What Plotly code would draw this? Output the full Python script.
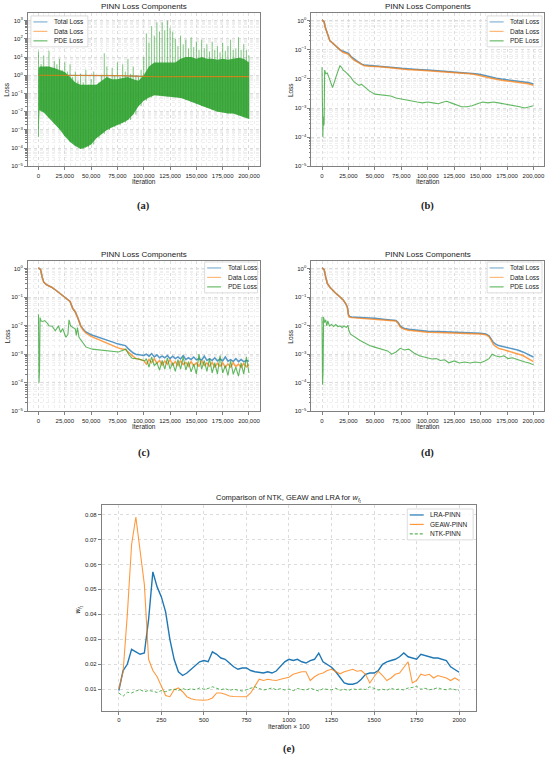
import plotly.graph_objects as go

W, H = 550, 766

BLUE = "rgba(31,119,180,0.75)"
ORANGE = "rgba(255,127,14,0.75)"
GREEN = "rgba(44,160,44,0.75)"
FONT = "Liberation Sans, Arial, sans-serif"

# ---------------- (a) PINN loss, unstable run ----------------
a_env_iter = [0, 1000] + list(range(5000, 200001, 5000))
a_pde_low = [4e-4, 1.2e-2, 9e-3, 4.5e-3, 2.2e-3, 1.1e-3, 4.5e-4, 2.2e-4, 1.3e-4, 9e-5, 1.1e-4,
             1.6e-4, 3.5e-4, 6e-4, 1e-3, 1.4e-3, 1.8e-3, 2.5e-3, 3.5e-3, 7e-3, 2e-2,
             4e-2, 6e-2, 8e-2, 7.5e-2, 7e-2, 6.8e-2, 6.3e-2, 5.6e-2, 4.5e-2, 3.5e-2,
             2.8e-2, 2e-2, 1.6e-2, 1.3e-2, 1e-2, 9e-3, 8e-3, 8e-3, 6.3e-3, 5e-3, 4e-3]
a_pde_top = [2, 3, 3, 3, 2.5, 2, 1.5, 0.8, 0.4, 0.3, 0.3,
             0.3, 0.3, 0.5, 0.8, 0.6, 0.6, 0.7, 0.8, 0.6, 0.5,
             1, 3, 5, 5, 5, 5, 5, 8, 10, 10,
             8, 10, 8, 8, 7, 8, 7, 8, 9, 8, 5]
a_spike_iter = list(range(0, 200001, 2500))
a_pde_peak = [20, 4, 12, 3, 22, 2.5, 6, 4, 8, 2,
              5, 1.6, 4, 0.8, 1.6, 0.5, 1.2, 0.4, 2, 0.3,
              0.6, 1.6, 0.3, 0.4, 1, 16, 3, 0.6, 2.5, 1,
              5, 0.8, 4, 1.6, 8, 1.2, 3, 1, 0.8, 2,
              10, 200, 60, 500, 150, 800, 250, 800, 300, 1000,
              400, 250, 100, 40, 150, 50, 90, 30, 120, 35,
              70, 25, 90, 30, 50, 20, 70, 25, 40, 18,
              60, 22, 40, 90, 25, 30, 120, 25, 50, 25, 12]
a_loss_iter = [0, 20000, 50000, 80000, 90000, 100000, 110000, 150000, 200000]
a_total = [1.0, 1.0, 0.98, 0.95, 0.9, 0.85, 0.83, 0.85, 0.85]
a_data = [1.0, 1.0, 0.98, 0.95, 0.9, 0.85, 0.83, 0.85, 0.85]

# ---------------- (b) ----------------
b_iter = [0, 1000, 2000, 3000, 5000, 7500, 10000, 12500, 15000, 17500, 20000, 22500,
          25000, 27500, 30000, 32500, 35000, 37500, 40000, 45000, 50000, 55000, 60000,
          65000, 70000, 75000, 80000, 90000, 100000, 110000, 120000, 130000, 135000,
          140000, 145000, 150000, 155000, 160000, 165000, 170000, 175000, 180000,
          185000, 190000, 195000, 200000]
b_total = [1.05, 1.0, 0.9, 0.6, 0.35, 0.2, 0.17, 0.14, 0.11, 0.095, 0.088, 0.08,
           0.075, 0.058, 0.048, 0.042, 0.037, 0.032, 0.03, 0.029, 0.029, 0.028, 0.027,
           0.026, 0.024, 0.023, 0.022, 0.021, 0.02, 0.019, 0.018, 0.017, 0.0165,
           0.016, 0.015, 0.014, 0.0125, 0.0115, 0.0105, 0.0098, 0.0093, 0.0088,
           0.0085, 0.008, 0.0075, 0.0067]
b_data = [1.05, 1.0, 0.9, 0.6, 0.35, 0.2, 0.17, 0.14, 0.11, 0.09, 0.08, 0.075,
          0.07, 0.055, 0.045, 0.04, 0.035, 0.03, 0.028, 0.027, 0.027, 0.026, 0.025,
          0.024, 0.022, 0.021, 0.021, 0.02, 0.019, 0.018, 0.017, 0.016, 0.0155,
          0.015, 0.014, 0.013, 0.0115, 0.0105, 0.0095, 0.009, 0.0085, 0.008,
          0.0078, 0.0072, 0.0068, 0.006]
b_pde_iter = [0, 500, 800, 1200, 1600, 2000, 2500, 3500, 5000, 6500,
              8000, 10000, 11500, 13000, 15000, 17000, 18500, 20000, 22500, 25000,
              27500, 30000, 32500, 35000, 37500, 40000, 42500, 45000, 50000, 55000,
              60000, 65000, 70000, 75000, 80000, 85000, 90000, 95000, 100000, 105000,
              110000, 115000, 118000, 122000, 127000, 132000, 137000, 142000, 147000, 152000,
              157000, 162000, 167000, 172000, 177000, 182000, 187000, 192000, 196000, 200000]
b_pde = [0.025, 0.002, 1e-4, 5e-4, 2.5e-4, 3e-4, 0.02, 0.015, 0.016, 0.012,
         0.008, 0.005, 0.008, 0.011, 0.018, 0.028, 0.025, 0.02, 0.017, 0.014,
         0.011, 0.008, 0.007, 0.006, 0.0065, 0.0055, 0.0045, 0.0038, 0.003, 0.0029,
         0.0027, 0.0026, 0.0022, 0.002, 0.0019, 0.0017, 0.0016, 0.0015, 0.0016, 0.0015,
         0.0014, 0.0016, 0.0017, 0.0015, 0.0013, 0.0011, 0.0011, 0.0012, 0.0014, 0.0016,
         0.0015, 0.0016, 0.0015, 0.0014, 0.0013, 0.0012, 0.0011, 0.001, 0.0011, 0.0012]

# ---------------- (c) ----------------
c_iter = [0, 1000, 2000, 3500, 5000, 7500, 10000, 12500, 15000, 17500, 20000, 22500,
          25000, 27500, 30000, 32500, 35000, 37500, 40000, 42500, 45000, 50000, 55000,
          60000, 65000, 70000, 75000, 80000, 82500, 85000, 87500, 90000, 92500, 95000,
          97500] + list(range(100000, 200001, 2500))
c_total = [1.05, 1.0, 0.9, 0.5, 0.33, 0.27, 0.25, 0.22, 0.19, 0.16,
           0.14, 0.12, 0.1, 0.085, 0.07, 0.04, 0.03, 0.018, 0.01, 0.0075,
           0.006, 0.0048, 0.0042, 0.0037, 0.0032, 0.0027, 0.0023, 0.0021, 0.002, 0.0016,
           0.0013, 0.0011, 0.001, 0.00095, 0.0009,
           9e-4, 1e-3, 8.5e-4, 1.05e-3, 8e-4, 9.5e-4, 7.5e-4, 8.5e-4, 7.5e-4, 9e-4,
           7e-4, 8.5e-4, 7e-4, 8e-4, 6.8e-4, 9e-4, 6.5e-4, 7.5e-4, 6.5e-4, 8e-4,
           6.3e-4, 7e-4, 6.2e-4, 8.5e-4, 6e-4, 7e-4, 6e-4, 7.5e-4, 5.8e-4, 6.8e-4,
           5.8e-4, 8e-4, 5.7e-4, 6.5e-4, 5.6e-4, 7e-4, 5.5e-4, 6.5e-4, 5.5e-4, 6e-4, 5.7e-4]
c_data = [1.05, 1.0, 0.9, 0.5, 0.33, 0.27, 0.25, 0.22, 0.19, 0.16,
          0.14, 0.12, 0.1, 0.085, 0.07, 0.04, 0.03, 0.018, 0.01, 0.007,
          0.0055, 0.0042, 0.0035, 0.0028, 0.0023, 0.002, 0.0017, 0.0015, 0.0015, 0.0012,
          0.001, 0.0008, 0.0007, 0.00068, 0.00065,
          6e-4, 4.5e-4, 6.5e-4, 5e-4, 7e-4, 4.8e-4, 6e-4, 4.2e-4, 5.8e-4, 4.5e-4,
          6.5e-4, 4.2e-4, 5.5e-4, 4e-4, 6e-4, 4.3e-4, 5.2e-4, 3.8e-4, 5.5e-4, 4e-4,
          5e-4, 3.7e-4, 6e-4, 4e-4, 5e-4, 3.8e-4, 5.2e-4, 3.6e-4, 4.8e-4, 3.8e-4,
          5e-4, 3.5e-4, 4.6e-4, 3.6e-4, 5e-4, 3.7e-4, 4.5e-4, 3.5e-4, 4.8e-4, 3.6e-4, 4.3e-4]
c_pde_iter = [0, 500, 1000, 1500, 2500, 4000, 6000, 8500, 10000, 13000,
              16000, 19000, 21000, 23000, 26000, 28000, 29000, 30500, 33000, 35000,
              36000, 37000, 38500, 41500, 45000, 51000, 60000, 70000, 76000, 81000,
              83000, 86000, 89000, 95000, 101000] + list(range(102500, 200001, 2500))
c_pde = [0.025, 1e-4, 2.8e-4, 0.019, 0.0145, 0.014, 0.015, 0.012, 0.0098, 0.0095,
         0.0066, 0.0098, 0.0058, 0.0079, 0.0039, 0.005, 0.016, 0.0098, 0.0086, 0.0075,
         0.0045, 0.0086, 0.0039, 0.0026, 0.0018, 0.0015, 0.0014, 0.0013, 0.0012, 0.0014,
         0.0015, 0.00095, 0.00072, 0.00068, 0.00058,
         7e-4, 3.5e-4, 8e-4, 4e-4, 5e-4, 2.8e-4, 6e-4, 3e-4, 7.5e-4, 3e-4,
         5e-4, 2.5e-4, 6.5e-4, 3e-4, 8e-4, 2.8e-4, 5.5e-4, 2.4e-4, 4.5e-4, 2e-4,
         1e-3, 3e-4, 6e-4, 2.5e-4, 7e-4, 2.2e-4, 5e-4, 2e-4, 9e-4, 2.2e-4,
         4e-4, 1.8e-4, 6e-4, 2e-4, 3.5e-4, 1.7e-4, 5e-4, 2e-4, 8e-4, 2.2e-4]

# ---------------- (d) ----------------
d_iter = [0, 1000, 2000, 3500, 5000, 7500, 10000, 12500, 15000, 17500,
          20000, 22500, 24000, 25000, 26000, 28000, 32000, 40000, 50000, 60000,
          66000, 70000, 72000, 74000, 76000, 78000, 82000, 90000, 100000, 110000,
          120000, 130000, 140000, 150000, 155000, 158000, 160000, 162000, 164000, 167000,
          170000, 175000, 180000, 185000, 190000, 195000, 200000]
d_total = [1.05, 1.0, 0.9, 0.5, 0.3, 0.22, 0.17, 0.14, 0.117, 0.095,
           0.079, 0.058, 0.044, 0.024, 0.021, 0.02, 0.0197, 0.019, 0.018, 0.0165,
           0.016, 0.0152, 0.0128, 0.0097, 0.0086, 0.008, 0.0075, 0.0068, 0.0064, 0.0062,
           0.006, 0.0059, 0.0057, 0.0054, 0.0051, 0.0044, 0.0034, 0.0026, 0.0023, 0.002,
           0.0019, 0.0017, 0.0016, 0.0014, 0.0012, 0.001, 0.0008]
d_data = [1.05, 1.0, 0.9, 0.5, 0.3, 0.22, 0.17, 0.14, 0.117, 0.095,
          0.079, 0.058, 0.044, 0.023, 0.02, 0.019, 0.0185, 0.018, 0.017, 0.0158,
          0.0153, 0.0145, 0.012, 0.009, 0.008, 0.0074, 0.0069, 0.0063, 0.0059, 0.0057,
          0.0056, 0.0055, 0.0054, 0.0051, 0.0048, 0.0041, 0.0031, 0.0022, 0.0019, 0.0016,
          0.0015, 0.0013, 0.0012, 0.001, 0.0009, 0.0007, 0.00055]
d_pde_iter = [0, 500, 1000, 1500, 2500, 3500, 4500, 5500, 7000, 9000,
              11000, 13000, 15000, 17000, 19000, 21000, 23000, 24500, 25500, 27000,
              30000, 33000, 36000, 40000, 45000, 49000, 53000, 57000, 62000, 66000,
              70000, 74000, 78000, 82000, 87000, 92000, 96000, 100000, 104000, 108000,
              112000, 116000, 120000, 125000, 130000, 135000, 140000, 145000, 150000, 154000,
              158000, 161000, 164000, 168000, 172000, 176000, 180000, 184000, 188000, 192000,
              196000, 200000]
d_pde = [0.02, 8.5e-5, 2.5e-4, 0.02, 0.0127, 0.016, 0.0098, 0.0145, 0.0098, 0.011,
         0.0093, 0.011, 0.0093, 0.0098, 0.0086, 0.0098, 0.0086, 0.0103, 0.0066, 0.005,
         0.0042, 0.0034, 0.003, 0.0025, 0.002, 0.0018, 0.0016, 0.0015, 0.0013, 0.001,
         0.0012, 0.0016, 0.0014, 0.0015, 0.0011, 0.00088, 0.0008, 0.00075, 0.00068, 0.0007,
         0.0006, 0.00064, 0.0005, 0.00058, 0.00049, 0.00053, 0.00049, 0.00053, 0.0005, 0.00058,
         0.0007, 0.001, 0.00088, 0.0008, 0.00088, 0.0007, 0.00075, 0.00066, 0.00058, 0.00053,
         0.00049, 0.00043]

# ---------------- (e) weight comparison ----------------
e_iter = list(range(0, 2001, 25))
e_lra = [0.0095, 0.0175, 0.020, 0.026, 0.025, 0.024, 0.0245, 0.038, 0.057, 0.051,
         0.047, 0.041, 0.030, 0.022, 0.017, 0.0155, 0.0165, 0.018, 0.0195, 0.021,
         0.0215, 0.021, 0.025, 0.024, 0.0225, 0.022, 0.0205, 0.019, 0.018, 0.0185,
         0.0185, 0.0175, 0.017, 0.0167, 0.0165, 0.017, 0.0165, 0.0173, 0.019, 0.021,
         0.022, 0.0215, 0.022, 0.021, 0.0205, 0.0215, 0.022, 0.0245, 0.021, 0.020,
         0.0188, 0.017, 0.0145, 0.0125, 0.012, 0.012, 0.0125, 0.014, 0.016, 0.0165,
         0.0165, 0.0175, 0.020, 0.021, 0.0215, 0.022, 0.023, 0.0245, 0.023, 0.0225,
         0.022, 0.024, 0.0235, 0.023, 0.0225, 0.0225, 0.022, 0.0215, 0.019, 0.0178, 0.0168]
e_geaw = [0.010, 0.017, 0.040, 0.068, 0.079, 0.066, 0.052, 0.022, 0.0175, 0.015,
          0.0115, 0.0075, 0.007, 0.0098, 0.0105, 0.009, 0.007, 0.0062, 0.0058, 0.0056,
          0.0056, 0.0058, 0.0065, 0.0085, 0.0085, 0.008, 0.0073, 0.0071, 0.007, 0.0069,
          0.007, 0.0085, 0.0115, 0.014, 0.0135, 0.014, 0.0137, 0.0135, 0.014, 0.0145,
          0.0148, 0.016, 0.0165, 0.017, 0.017, 0.0135, 0.015, 0.016, 0.0165, 0.0175,
          0.018, 0.017, 0.0162, 0.017, 0.0175, 0.018, 0.0172, 0.0175, 0.016, 0.0125,
          0.015, 0.0172, 0.0155, 0.0135, 0.0145, 0.016, 0.0165, 0.019, 0.021, 0.0125,
          0.0135, 0.016, 0.0155, 0.016, 0.0145, 0.0155, 0.015, 0.0145, 0.0135, 0.0145, 0.0135]
e_ntk = [0.0085, 0.0072, 0.0088, 0.0085, 0.0093, 0.0098, 0.0090, 0.0095, 0.0092, 0.0087,
         0.0095, 0.0090, 0.0097, 0.0100, 0.0095, 0.0103, 0.0097, 0.0102, 0.0098, 0.0105,
         0.0100, 0.0103, 0.0110, 0.0105, 0.0098, 0.0103, 0.0095, 0.0100, 0.0097, 0.0093,
         0.0098, 0.0103, 0.0110, 0.0103, 0.0097, 0.0100, 0.0105, 0.0098, 0.0102, 0.0097,
         0.0101, 0.0094, 0.0103, 0.0099, 0.0097, 0.0104, 0.0098, 0.0093, 0.0102, 0.0100,
         0.0097, 0.0104, 0.0096, 0.0100, 0.0095, 0.0102, 0.0098, 0.0101, 0.0099, 0.0110,
         0.0102, 0.0097, 0.0100, 0.0096, 0.0104, 0.0098, 0.0101, 0.0097, 0.0105, 0.0107,
         0.0112, 0.0100, 0.0104, 0.0098, 0.0101, 0.0106, 0.0100, 0.0098, 0.0102, 0.0097, 0.0095]

loss_names = ["Total Loss", "Data Loss", "PDE Loss"]
weight_names = ["LRA-PINN", "GEAW-PINN", "NTK-PINN"]

# plot-area boxes in pixels (left, right, top, bottom)
boxes = {
    1: (28, 260, 13, 167),
    2: (312, 545, 13, 167),
    3: (28, 260, 262, 413),
    4: (312, 545, 262, 413),
    5: (102, 477, 507, 714),
}


def sx(p):
    return p / W


def sy(p):
    return 1 - p / H


fig = go.Figure()


def line(x, y, color, n, width=1.2, dash="solid"):
    fig.add_trace(go.Scatter(
        x=x, y=y, mode="lines", showlegend=False, hoverinfo="skip",
        line=dict(color=color, width=width, dash=dash),
        xaxis="x" if n == 1 else f"x{n}", yaxis="y" if n == 1 else f"y{n}"))


# panel a
line(a_loss_iter, a_total, BLUE, 1)
fig.add_trace(go.Scatter(x=a_env_iter, y=a_pde_low, mode="lines", line=dict(width=0),
                         showlegend=False, hoverinfo="skip", xaxis="x", yaxis="y"))
fig.add_trace(go.Scatter(x=a_env_iter, y=a_pde_top, mode="lines", line=dict(width=0),
                         fill="tonexty", fillcolor="rgba(44,160,44,0.88)",
                         showlegend=False, hoverinfo="skip", xaxis="x", yaxis="y"))
spx, spy = [], []
for i, it in enumerate(a_spike_iter):
    j = min(range(len(a_env_iter)), key=lambda k: abs(a_env_iter[k] - it))
    spx += [it, it, None]
    spy += [a_pde_low[j], a_pde_peak[i], None]
line(spx, spy, "rgba(44,160,44,0.6)", 1, width=1)
line(a_loss_iter, a_data, ORANGE, 1)

# panels b-d
for n, it, tot, dat, pit, pde in [
    (2, b_iter, b_total, b_data, b_pde_iter, b_pde),
    (3, c_iter, c_total, c_data, c_pde_iter, c_pde),
    (4, d_iter, d_total, d_data, d_pde_iter, d_pde),
]:
    line(it, tot, BLUE, n, width=1.5)
    line(it, dat, ORANGE, n, width=1.5)
    line(pit, pde, GREEN, n, width=1.1)

# panel e
E_COLORS = ["#1f77b4", "rgba(255,127,14,0.8)", "rgba(44,160,44,0.8)"]
line(e_iter, e_lra, E_COLORS[0], 5, width=1.4)
line(e_iter, e_geaw, E_COLORS[1], 5, width=1.1)
line(e_iter, e_ntk, E_COLORS[2], 5, width=1, dash="3px,2px")

axis_common = dict(
    showline=True, mirror=True, linecolor="#808080", linewidth=1,
    ticks="outside", ticklen=3, tickcolor="#808080", tickwidth=0.8,
    tickfont=dict(size=6, family=FONT, color="#222"),
    showgrid=True, gridcolor="#dcdcdc", griddash="dot", gridwidth=0.6,
    zeroline=False,
)
minor_grid = dict(showgrid=True, gridcolor="#efefef", griddash="dot", gridwidth=0.5)

layout = {}
minor_log = [m * 10 ** e for e in range(-5, 3) for m in range(2, 10)]
for n in range(1, 6):
    l, r, t, b = boxes[n]
    xk = "xaxis" if n == 1 else f"xaxis{n}"
    yk = "yaxis" if n == 1 else f"yaxis{n}"
    xa = "x" if n == 1 else f"x{n}"
    ya = "y" if n == 1 else f"y{n}"
    if n < 5:
        top = 3.42 if n == 1 else 0.26
        layout[xk] = dict(axis_common, domain=[sx(l), sx(r)], anchor=ya,
                          range=[-10000, 210000], tickmode="linear", tick0=0, dtick=25000,
                          tickformat=",d",
                          minor=dict(minor_grid, tickmode="linear", tick0=0, dtick=5000,
                                     ticks=""))
        exps = list(range(-5, 4 if n == 1 else 1))
        layout[yk] = dict(axis_common, domain=[sy(b), sy(t)], anchor=xa, type="log",
                          range=[-5, top], tickmode="array",
                          tickvals=[10 ** e for e in exps],
                          ticktext=[f"10<sup>{str(e).replace('-', '−')}</sup>" for e in exps],
                          minor=dict(minor_grid, tickmode="array", tickvals=minor_log,
                                     ticks="outside", ticklen=1.5, tickcolor="#808080"))
    else:
        layout[xk] = dict(axis_common, domain=[sx(l), sx(r)], anchor=ya,
                          range=[-100, 2100], tickmode="linear", tick0=0, dtick=250)
        layout[yk] = dict(axis_common, domain=[sy(b), sy(t)], anchor=xa,
                          range=[0.0012, 0.0838], tickmode="linear", tick0=0, dtick=0.01,
                          tickformat=".2f")

ann = []
shapes = []


def text(x, y, s, size=6.5, angle=0, family=FONT, bold=False, anchor="center"):
    ann.append(dict(x=sx(x), y=sy(y), xref="paper", yref="paper",
                    text=f"<b>{s}</b>" if bold else s,
                    showarrow=False, xanchor=anchor, yanchor="middle", textangle=angle,
                    font=dict(size=size, family=family, color="#222")))


def legend(x0, y0, x1, names, colors, dashes=("solid",) * 3):
    # framed legend box drawn in paper space
    shapes.append(dict(type="rect", xref="paper", yref="paper",
                       x0=sx(x0), x1=sx(x1), y0=sy(y0), y1=sy(y0 + 31),
                       line=dict(color="#d4d4d4", width=0.8),
                       fillcolor="rgba(255,255,255,0.85)", layer="above"))
    for k, (nm, c, d) in enumerate(zip(names, colors, dashes)):
        yy = y0 + 6 + 9.5 * k
        shapes.append(dict(type="line", xref="paper", yref="paper",
                           x0=sx(x0 + 2.5), x1=sx(x0 + 16.5), y0=sy(yy), y1=sy(yy),
                           line=dict(color=c, width=1.2, dash=d), layer="above"))
        text(x0 + 21, yy, nm, size=6.5, anchor="left")


LOSS_LEG = ["rgba(31,119,180,0.55)", "rgba(255,127,14,0.55)", "rgba(44,160,44,0.7)"]
legend(31, 16, 88, loss_names, LOSS_LEG)
legend(488, 16, 543, loss_names, LOSS_LEG)
legend(205, 263, 258, loss_names, LOSS_LEG)
legend(488, 263, 543, loss_names, LOSS_LEG)
legend(408, 511, 474, weight_names, E_COLORS, ("solid", "solid", "3px,2px"))

for n in range(1, 5):
    l, r, t, b = boxes[n]
    text((l + r) / 2, t - 6, "PINN Loss Components", size=8)
    text((l + r) / 2, b + 15, "Iteration", size=6.5)
    text(l - 21, (t + b) / 2, "Loss", size=6.5, angle=-90)
text(289.5, 500, "Comparison of NTK, GEAW and LRA for <i>w<sub>f₁</sub></i>", size=7.5)
text(289.5, 729, "Iteration × 100", size=6.5)
text(78, 612, "<i>w<sub>f₁</sub></i>", size=6.5, angle=-90)

serif = "Liberation Serif, Times New Roman, serif"
for s, x, y in [("(a)", 144, 207), ("(b)", 428, 207), ("(c)", 144, 455),
                ("(d)", 428, 455), ("(e)", 289.5, 752)]:
    text(x, y, s, size=10.5, family=serif, bold=True)

fig.update_layout(
    width=W, height=H, autosize=False,
    margin=dict(l=0, r=0, t=0, b=0),
    paper_bgcolor="white", plot_bgcolor="white",
    font=dict(family=FONT, color="#222"),
    showlegend=False,
    annotations=ann, shapes=shapes, **layout,
)

fig.write_html("out.html", config={"displayModeBar": False},
               post_script="document.body.style.margin='0px';")
